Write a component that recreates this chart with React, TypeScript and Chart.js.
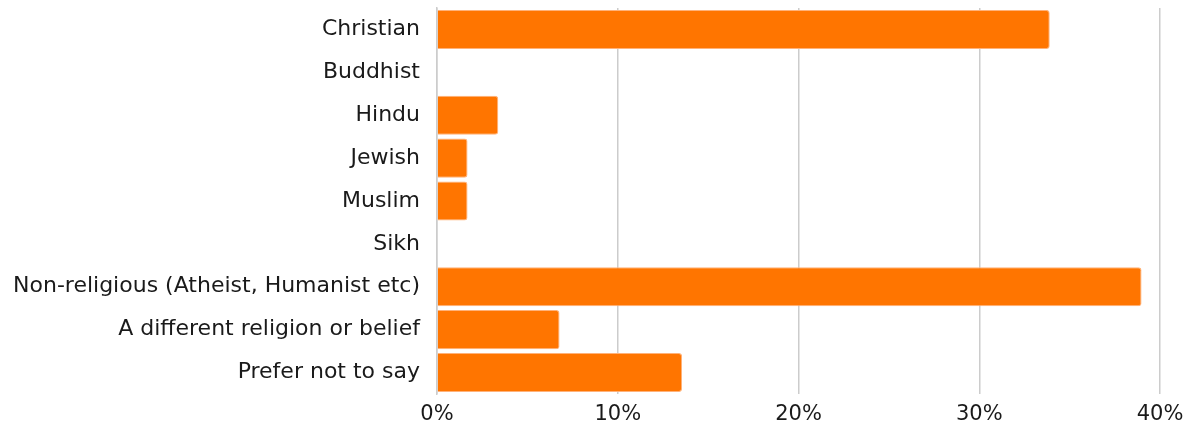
import React, { useEffect, useRef } from "react";
import { Chart, registerables } from "chart.js";

Chart.register(...registerables);

const categories = [
  "Christian",
  "Buddhist",
  "Hindu",
  "Jewish",
  "Muslim",
  "Sikh",
  "Non-religious (Atheist, Humanist etc)",
  "A different religion or belief",
  "Prefer not to say",
];

const percentages = [33.9, 0, 3.39, 1.69, 1.69, 0, 38.98, 6.78, 13.56];

const xTicks = [0, 10, 20, 30, 40];

export default function App() {
  const ref = useRef<HTMLCanvasElement>(null);
  useEffect(() => {
    if (!ref.current) return;
    const font = "DejaVu Sans";
    const chart = new Chart(ref.current, {
      type: "bar",
      data: {
        labels: categories,
        datasets: [
          {
            data: percentages,
            backgroundColor: "#FF7500",
            borderColor: "#FFB27A",
            borderWidth: 1,
            borderRadius: 3,
            borderSkipped: "start",
            barPercentage: 0.95,
            categoryPercentage: 0.96,
          },
        ],
      },
      options: {
        indexAxis: "y",
        animation: false,
        responsive: false,
        maintainAspectRatio: false,
        layout: { padding: { top: 8, right: 33, left: 0, bottom: 0 } },
        plugins: { legend: { display: false }, tooltip: { enabled: false } },
        scales: {
          x: {
            min: 0,
            max: 40,
            afterBuildTicks: (axis: any) => {
              axis.ticks = xTicks.map((v) => ({ value: v }));
            },
            afterFit: (s: any) => {
              s.paddingLeft = 0;
              s.paddingRight = 0;
              s.height = 33;
            },
            ticks: {
              callback: (v: any) => v + "%",
              color: "#1a1a1a",
              font: { family: font, size: 21 },
              padding: 8,
              maxRotation: 0,
            },
            grid: { color: "#cccccc", lineWidth: 1.5, drawTicks: false },
            border: { display: false },
          },
          y: {
            afterFit: (s: any) => {
              s.paddingTop = 0;
              s.paddingBottom = 0;
              s.width = 437;
            },
            ticks: {
              color: "#1a1a1a",
              font: { family: font, size: 22 },
              padding: 17,
            },
            grid: { display: false, drawTicks: false },
            border: { display: true, color: "#cccccc", width: 1.5 },
          },
        },
      },
    });
    return () => chart.destroy();
  }, []);
  return (
    <div style={{ position: "fixed", left: 0, top: 0, width: 1193, height: 427 }}>
      <canvas ref={ref} width={1193} height={427} style={{ width: 1193, height: 427 }} />
    </div>
  );
}
